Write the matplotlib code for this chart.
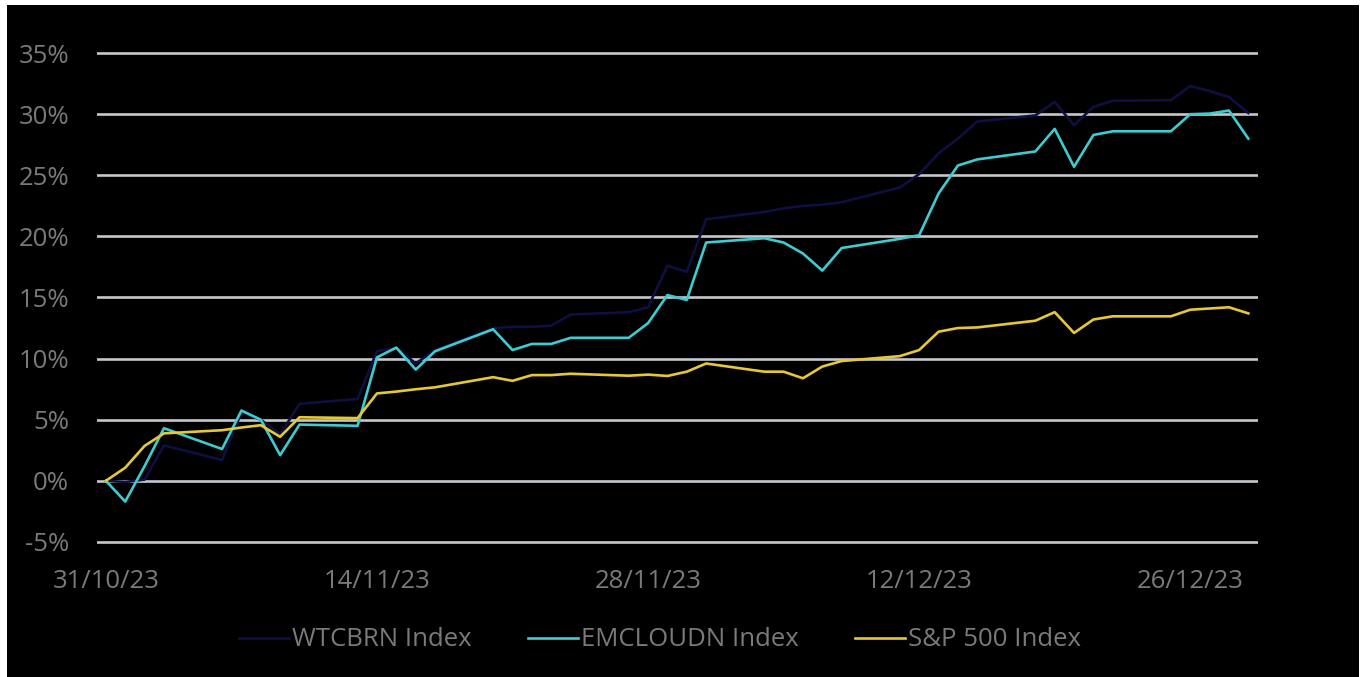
# Cumulative performance: WTCBRN vs EMCLOUDN vs S&P 500, Nov-Dec 2023
import matplotlib.pyplot as plt
import matplotlib.dates as mdates
import numpy as np
import pandas as pd
from matplotlib.patches import Rectangle
from matplotlib.ticker import FuncFormatter

# Weekdays from 31/10/23 to 29/12/23 (holidays carry the previous value)
dates = pd.bdate_range("2023-10-31", "2023-12-29")

# Cumulative returns in %
wtcbrn = [
    0.0, -0.1, 0.1, 2.9,
    1.7, 5.6, 5.0, 3.8, 6.3,
    6.7, 10.6, 10.9, 9.6, 10.7,
    12.5, 12.6, 12.6, 12.7, 13.6,
    13.8, 14.2, 17.6, 17.1, 21.4,
    22.0, 22.3, 22.5, 22.6, 22.8,
    24.0, 25.1, 26.8, 28.0, 29.4,
    29.9, 31.0, 29.1, 30.6, 31.1,
    31.15, 32.3, 31.9, 31.4, 30.1,
]
emcloudn = [
    0.0, -1.7, 1.2, 4.3,
    2.6, 5.75, 5.0, 2.1, 4.6,
    4.5, 10.1, 10.9, 9.1, 10.6,
    12.4, 10.7, 11.2, 11.2, 11.7,
    11.7, 12.9, 15.2, 14.8, 19.5,
    19.85, 19.5, 18.6, 17.2, 19.05,
    19.8, 20.1, 23.5, 25.8, 26.3,
    26.95, 28.8, 25.7, 28.3, 28.6,
    28.6, 30.0, 30.05, 30.3, 28.0,
]
spx = [
    0.0, 1.07, 2.86, 3.88,
    4.14, 4.36, 4.55, 3.6, 5.2,
    5.13, 7.15, 7.3, 7.49, 7.65,
    8.48, 8.18, 8.65, 8.65, 8.76,
    8.6, 8.69, 8.58, 8.93, 9.6,
    8.93, 8.93, 8.39, 9.35, 9.8,
    10.2, 10.7, 12.2, 12.5, 12.55,
    13.1, 13.8, 12.1, 13.2, 13.46,
    13.46, 14.0, 14.1, 14.2, 13.7,
]

NAMES = ["WTCBRN Index", "EMCLOUDN Index", "S&P 500 Index"]
COLORS = ["#0f0f42", "#3fcbd0", "#e6c832"]
TICK_DATES = ["2023-10-31", "2023-11-14", "2023-11-28", "2023-12-12", "2023-12-26"]
YTICKS = [-5, 0, 5, 10, 15, 20, 25, 30, 35]

W, H = 1365, 677
TXT = "#7a7a7a"
FS = 18.5

plt.rcParams["font.family"] = ["Open Sans", "DejaVu Sans"]

fig = plt.figure(figsize=(W / 100, H / 100), dpi=100, facecolor="white")
# black panel with a thin white margin on top/left/right (drawn beneath the axes)
fig.patches.append(
    Rectangle((7 / W, 0), (1359 - 7) / W, (H - 5) / H, transform=fig.transFigure,
              facecolor="black", edgecolor="none", zorder=-5)
)

# axes placed in pixels: x 97..1258, y (top) 47..548
ax = fig.add_axes([97 / W, (H - 548) / H, (1258 - 97) / W, (548 - 47) / H])
ax.set_facecolor("none")

for vals, name, col in zip([wtcbrn, emcloudn, spx], NAMES, COLORS):
    ax.plot(dates, vals, color=col, linewidth=1.9, label=name, zorder=3)

ax.set_ylim(-5.5, 35.5)
ax.set_xlim(pd.Timestamp("2023-10-30 13:00"), pd.Timestamp("2023-12-29 12:00"))
ax.set_yticks(YTICKS)
ax.yaxis.set_major_formatter(FuncFormatter(lambda v, _: f"{v:.0f}%"))
ax.set_xticks(pd.to_datetime(TICK_DATES))
ax.xaxis.set_major_formatter(mdates.DateFormatter("%d/%m/%y"))

ax.grid(axis="y", color="#c4c8cc", linewidth=1.9, zorder=1)
ax.grid(axis="x", visible=False)
for s in ax.spines.values():
    s.set_visible(False)
ax.tick_params(axis="y", length=0, pad=20, labelsize=FS, labelcolor=TXT)
ax.tick_params(axis="x", length=0, pad=15, labelsize=FS, labelcolor=TXT)

leg = fig.legend(
    loc="center", bbox_to_anchor=(660 / W, (H - 640) / H), ncol=3, frameon=False,
    fontsize=FS, handlelength=1.95, handletextpad=0.1, columnspacing=2.2,
)
for t in leg.get_texts():
    t.set_color(TXT)

fig.savefig("out.png", dpi=100, facecolor=fig.get_facecolor())
